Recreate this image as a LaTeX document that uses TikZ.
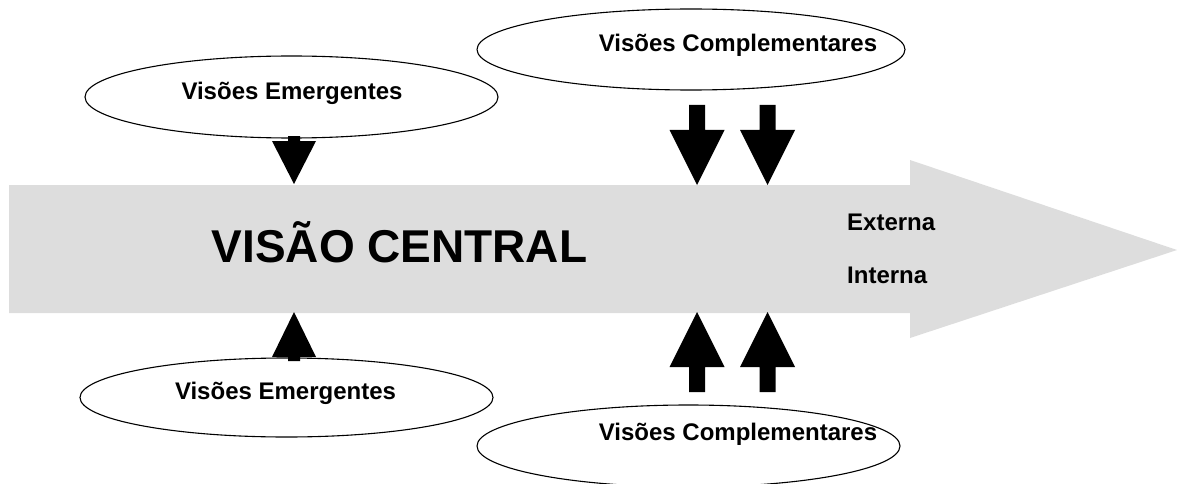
\documentclass[tikz,border=0pt]{standalone}
\usepackage{fontspec}
\setmainfont{Liberation Sans}
\usetikzlibrary{shapes.geometric}
\definecolor{flowgrey}{HTML}{DDDDDD}
\tikzset{
	vision/.style={ellipse, draw=black, line width=1.1pt, fill=white, inner sep=0pt},
	visiontext/.style={font=\fontsize{24}{28}\selectfont\bfseries, anchor=base, inner sep=0pt},
	sidetext/.style={visiontext, anchor=base west},
	centraltext/.style={font=\fontsize{46}{52}\selectfont\bfseries, anchor=base, inner sep=0pt}
}
\begin{document}
\begin{tikzpicture}[x=1pt,y=-1pt]
	\useasboundingbox (0,0) rectangle (1177,484);
	% big arrow
	\fill[flowgrey] (9,185) -- (910,185) -- (910,160) -- (1177,250) -- (910,338) -- (910,313) -- (9,313) -- cycle;
	\node[centraltext] (central) at (399.5,262) {VISÃO CENTRAL};
	\node[sidetext] (ext) at (847,230) {Externa};
	\node[sidetext] (int) at (847,283) {Interna};
	% ellipses
	\node[vision, minimum width=413pt, minimum height=82pt] (emTop) at (291.5,97) {};
	\node[vision, minimum width=428pt, minimum height=81pt] (compTop) at (691,49.5) {};
	\node[vision, minimum width=413pt, minimum height=79pt] (emBot) at (286.5,397.5) {};
	\node[vision, minimum width=423pt, minimum height=82pt] (compBot) at (688.5,446) {};
	\node[visiontext] (emTopTxt) at (292,99.3) {Visões Emergentes};
	\node[visiontext] (compTopTxt) at (738,51.7) {Visões Complementares};
	\node[visiontext] (emBotTxt) at (285.5,399) {Visões Emergentes};
	\node[visiontext] (compBotTxt) at (738,440) {Visões Complementares};
	% block arrows: centre, shaft end, head base, tip, half shaft, half head
	\foreach \cx/\ya/\yb/\yc/\sw/\hw in {294/136/141/184/6/22, 697/105/130/185/8/27.5, 767.5/105/130/185/8/27.5,
		294/361/357/312/6/22, 697/392/367/312/8/27.5, 767.5/392/367/312/8/27.5}
		\fill (\cx-\sw,\ya) -- (\cx+\sw,\ya) -- (\cx+\sw,\yb) -- (\cx+\hw,\yb) -- (\cx,\yc) -- (\cx-\hw,\yb) -- (\cx-\sw,\yb) -- cycle;
\end{tikzpicture}
\end{document}
